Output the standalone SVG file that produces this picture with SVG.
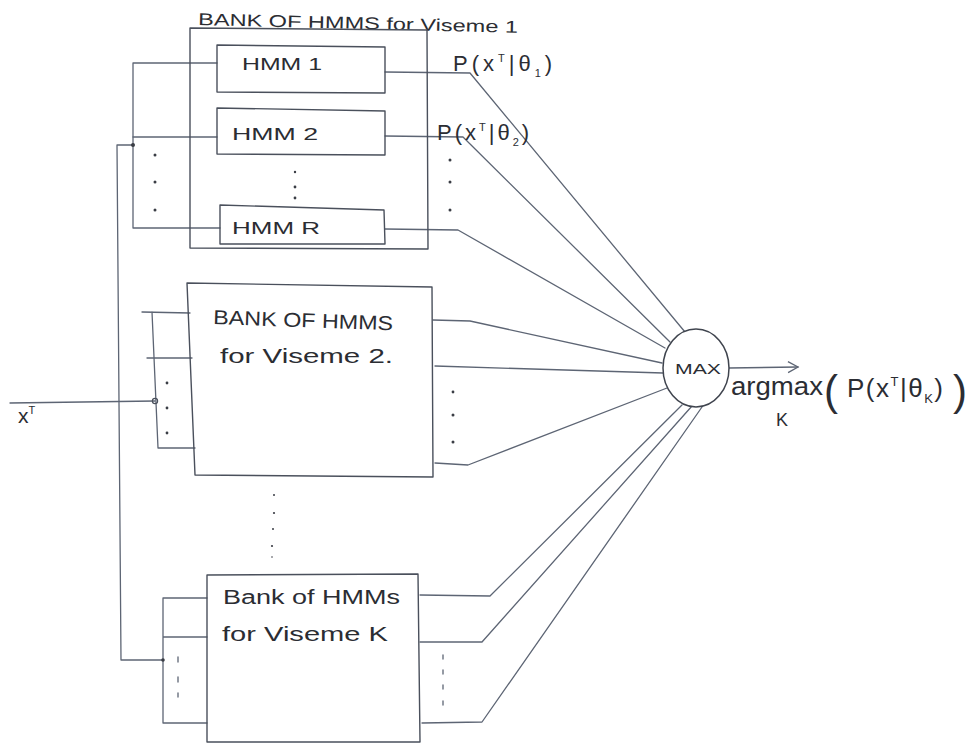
<svg xmlns="http://www.w3.org/2000/svg" width="973" height="744" viewBox="0 0 973 744">
<style>
.ln{fill:none;stroke:#5d6574;stroke-width:1.3;stroke-linejoin:round;stroke-linecap:round}
.bx{fill:none;stroke:#4a505c;stroke-width:1.4;stroke-linejoin:round}
.t{font-family:"Liberation Sans",Arial,sans-serif;fill:#2b2d33}
.dot{fill:#3a3d45}
</style>
<defs>
<marker id="arr" markerWidth="14" markerHeight="14" refX="11" refY="7" orient="auto" markerUnits="userSpaceOnUse">
<path d="M1,1.5 L11,7 L1,12.5" fill="none" stroke="#5d6574" stroke-width="1.3"/>
</marker>
</defs>
<rect width="973" height="744" fill="#ffffff"/>

<g id="connectors">
<!-- input x^T -->
<path class="ln" d="M10,403 L155,401"/>
<!-- big vertical distribution line -->
<path class="ln" d="M133,145 L117,145 L121,660 L163,660"/>
<!-- bank1 input bus -->
<path class="ln" d="M217,63 L133,63 L133,228 L220,228"/>
<path class="ln" d="M133,137 L217,137"/>
<!-- bank2 input bus -->
<path class="ln" d="M142,312 L190,313 M152,312 L158,448 L195,448 M147,358 L192,358"/>
<!-- bankK input bus -->
<path class="ln" d="M207,598 L163,598 L163,723 L207,723 M163,637 L207,637"/>
<!-- outputs bank1 -->
<path class="ln" d="M385,72 L470,73 L685,332"/>
<path class="ln" d="M385,136 L463,137 L670,342"/>
<path class="ln" d="M385,229 L458,230 L665,348"/>
<!-- outputs bank2 -->
<path class="ln" d="M433,320 L470,321 L662,363"/>
<path class="ln" d="M435,366 L663,373"/>
<path class="ln" d="M435,463 L468,465 L667,388"/>
<!-- outputs bankK -->
<path class="ln" d="M420,595 L490,596 L682,405"/>
<path class="ln" d="M420,642 L482,642 L692,406"/>
<path class="ln" d="M422,723 L482,722 L702,407"/>
<!-- output arrow -->
<path class="ln" d="M729,368 L798,367" marker-end="url(#arr)"/>
<!-- junction dots -->
<circle cx="133" cy="145" r="2" class="dot"/>
<circle cx="155" cy="401" r="2.6" fill="none" stroke="#4a505c" stroke-width="1.2"/>
<circle cx="163" cy="660" r="1.8" class="dot"/>
</g>

<g id="bank1">
<text class="t" x="198" y="25" font-size="17" textLength="320" lengthAdjust="spacingAndGlyphs" transform="rotate(1.4 198 25)">BANK OF HMMS for Viseme 1</text>
<path class="bx" d="M190,28 L427,30 L428,249 L190,248 Z"/>
<g id="hmm1">
<path class="bx" d="M217,45 L385,47 L385,93 L217,92 Z"/>
<text class="t" x="242" y="70" font-size="17" textLength="80" lengthAdjust="spacingAndGlyphs">HMM 1</text>
</g>
<g id="hmm2">
<path class="bx" d="M217,108 L385,111 L385,155 L217,154 Z"/>
<text class="t" x="232" y="140" font-size="17" textLength="86" lengthAdjust="spacingAndGlyphs">HMM 2</text>
</g>
<g id="hmmR">
<path class="bx" d="M220,205 L384,210 L385,244 L220,244 Z"/>
<text class="t" x="232" y="234" font-size="17" textLength="88" lengthAdjust="spacingAndGlyphs">HMM R</text>
</g>
<circle cx="155" cy="155" r="1.5" class="dot"/><circle cx="155" cy="182" r="1.5" class="dot"/><circle cx="155" cy="210" r="1.5" class="dot"/>
<circle cx="295" cy="172" r="1.2" class="dot"/><circle cx="295" cy="187" r="1.4" class="dot"/><circle cx="295" cy="198" r="1.4" class="dot"/>
<circle cx="450" cy="160" r="1.5" class="dot"/><circle cx="450" cy="182" r="1.5" class="dot"/><circle cx="450" cy="210" r="1.5" class="dot"/>
</g>

<g id="label-p1">
<text class="t" x="453" y="71" font-size="22" letter-spacing="4">P(x<tspan dy="-9" font-size="11">T</tspan><tspan dy="9">|θ</tspan><tspan dy="6" font-size="11">1</tspan><tspan dy="-6">)</tspan></text>
</g>
<g id="label-p2">
<text class="t" x="437" y="140" font-size="22" letter-spacing="3">P(x<tspan dy="-9" font-size="11">T</tspan><tspan dy="9">|θ</tspan><tspan dy="6" font-size="11">2</tspan><tspan dy="-6">)</tspan></text>
</g>

<g id="label-input">
<text class="t" x="18" y="423" font-size="21">x<tspan dy="-9" font-size="11">T</tspan></text>
</g>

<g id="bank2">
<path class="bx" d="M187,283 L432,287 L433,477 L195,475 Z"/>
<text class="t" x="213" y="324" font-size="20" textLength="180" lengthAdjust="spacingAndGlyphs" transform="rotate(2 213 324)">BANK OF HMMS</text>
<text class="t" x="220" y="363" font-size="20" textLength="173" lengthAdjust="spacingAndGlyphs">for Viseme 2.</text>
<circle cx="167" cy="383" r="1.4" class="dot"/><circle cx="167" cy="408" r="1.4" class="dot"/><circle cx="167" cy="433" r="1.4" class="dot"/>
<circle cx="453" cy="392" r="1.4" class="dot"/><circle cx="453" cy="415" r="1.5" class="dot"/><circle cx="453" cy="442" r="1.5" class="dot"/>
</g>

<g id="between-dots">
<circle cx="274" cy="495" r="1" class="dot"/><circle cx="274" cy="513" r="1.1" class="dot"/><circle cx="273" cy="529" r="1" class="dot"/><circle cx="272" cy="546" r="1.1" class="dot"/><circle cx="272" cy="557" r="0.8" class="dot"/>
</g>

<g id="bankK">
<path class="bx" d="M207,575 L418,574 L420,742 L207,742 Z"/>
<text class="t" x="223" y="604" font-size="20" textLength="177" lengthAdjust="spacingAndGlyphs">Bank of HMMs</text>
<text class="t" x="222" y="641" font-size="20" textLength="166" lengthAdjust="spacingAndGlyphs">for Viseme K</text>
<path class="ln" d="M178,657 L178,662 M178,677 L178,682 M178,693 L178,697"/>
<path class="ln" d="M443,655 L443,659 M443,670 L443,674 M443,685 L443,689 M443,701 L443,705"/>
</g>

<g id="max">
<ellipse cx="696" cy="368" rx="33" ry="39" fill="#ffffff" stroke="#3f444e" stroke-width="1.5"/>
<text class="t" x="675" y="374" font-size="15" textLength="46" lengthAdjust="spacingAndGlyphs">MAX</text>
</g>

<g id="label-output">
<text class="t" x="731" y="395" font-size="25" textLength="92" lengthAdjust="spacingAndGlyphs">argmax</text>
<text class="t" x="776" y="426" font-size="18">K</text>
<text class="t" x="824" y="405" font-size="42">(</text>
<text class="t" x="847" y="397" font-size="26" letter-spacing="1.5">P(x<tspan dy="-11" font-size="13">T</tspan><tspan dy="11">|θ</tspan><tspan dy="6" font-size="13">K</tspan><tspan dy="-6">)</tspan></text>
<text class="t" x="953" y="405" font-size="42">)</text>
</g>
</svg>
